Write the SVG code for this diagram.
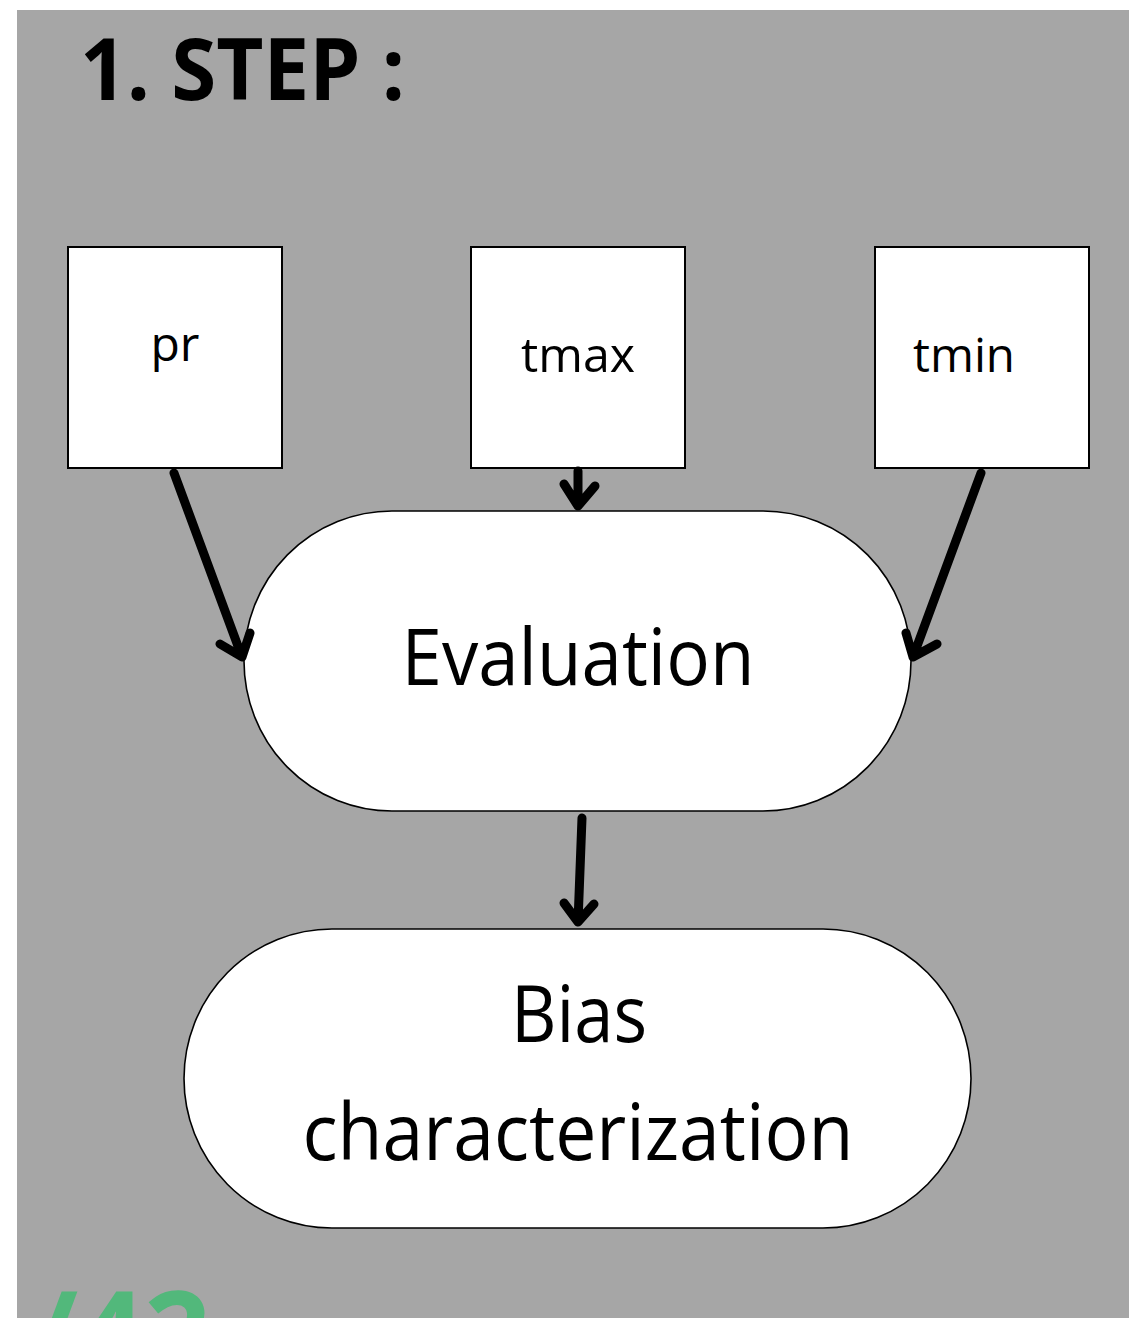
<svg xmlns="http://www.w3.org/2000/svg" width="1129" height="1318" viewBox="0 0 1129 1318">
<style>
.bg{fill:#a6a6a6}
.box{fill:#fff;stroke:#000;stroke-width:2}
.pill{fill:#fff;stroke:#000;stroke-width:1.6}
.t{font-family:"Open Sans","Noto Sans",sans-serif;fill:#000}
.arr{fill:none;stroke:#000;stroke-width:9;stroke-linecap:round;stroke-linejoin:round}
</style>
<rect class="bg" x="17" y="10" width="1112" height="1308"/>
<text class="t" x="80" y="100" font-size="86" font-weight="700" textLength="325" lengthAdjust="spacingAndGlyphs">1. STEP :</text>
<text x="30" y="1375" font-family="Open Sans, sans-serif" font-size="116" font-weight="700" fill="#52b87b">/42</text>
<g id="node-pr">
<rect class="box" x="68" y="247" width="214" height="221"/>
<text class="t" x="175" y="361" font-size="48" text-anchor="middle">pr</text>
</g>
<g id="node-tmax">
<rect class="box" x="471" y="247" width="214" height="221"/>
<text class="t" x="578" y="372" font-size="48" text-anchor="middle" textLength="114" lengthAdjust="spacingAndGlyphs">tmax</text>
</g>
<g id="node-tmin">
<rect class="box" x="875" y="247" width="214" height="221"/>
<text class="t" x="964" y="372" font-size="48" text-anchor="middle" textLength="102" lengthAdjust="spacingAndGlyphs">tmin</text>
</g>
<g id="node-evaluation">
<rect class="pill" x="244" y="511" width="667" height="300" rx="148" ry="150"/>
<text class="t" x="578" y="685" font-size="78" text-anchor="middle" textLength="353" lengthAdjust="spacingAndGlyphs">Evaluation</text>
</g>
<g id="node-bias">
<rect class="pill" x="184" y="929" width="787" height="299" rx="148" ry="150"/>
<text class="t" x="579" y="1042" font-size="78" text-anchor="middle" textLength="136" lengthAdjust="spacingAndGlyphs">Bias</text>
<text class="t" x="578" y="1160" font-size="78" text-anchor="middle" textLength="551" lengthAdjust="spacingAndGlyphs">characterization</text>
</g>
<g id="connectors">
<path class="arr" d="M174 473 L242 657 M220 644 L242 657 L250 633"/>
<path class="arr" d="M578 471 L578 506 M564 484 L578 506 L595 486"/>
<path class="arr" d="M981 473 L913 657 M906 633 L913 657 L937 644"/>
<path class="arr" d="M582 818 L578 922 M564 903 L578 922 L594 904"/>
</g>
</svg>
